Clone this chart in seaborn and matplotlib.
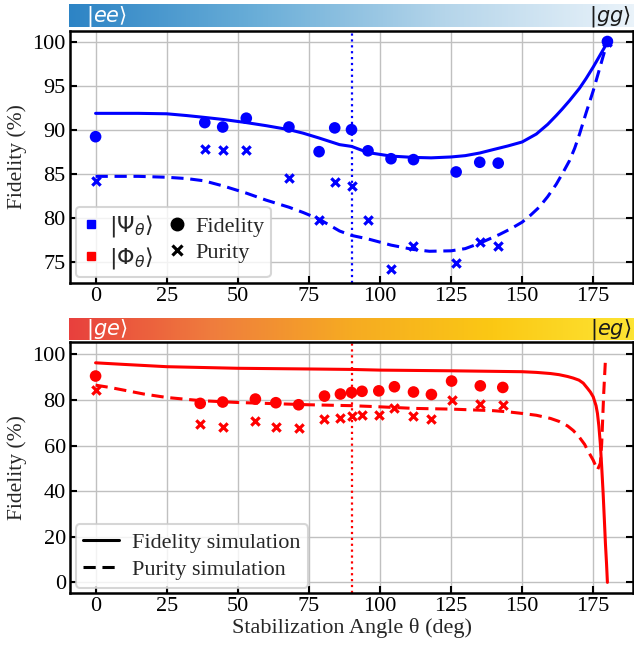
import numpy as np
import pandas as pd
import matplotlib
matplotlib.use("Agg")
import matplotlib.pyplot as plt
from matplotlib.colors import LinearSegmentedColormap
from matplotlib.lines import Line2D
import seaborn as sns

# ---------------- data ----------------
# Top panel |Psi_theta> (blue)
psi_angle = [0, 38.4, 44.7, 53.0, 68.0, 78.6, 84.1, 90.0, 95.8, 103.9, 111.8, 126.8, 135.1, 141.6, 180]
psi_fid = [89.2, 90.8, 90.3, 91.3, 90.3, 87.5, 90.2, 90.0, 87.6, 86.7, 86.6, 85.2, 86.3, 86.2, 100.0]
psi_pur = [84.2, 87.8, 87.7, 87.7, 84.5, 79.7, 84.1, 83.6, 79.7, 74.2, 76.8, 74.9, 77.3, 76.8, 100.0]

psi_sim_angle = [0, 15, 25, 32, 38, 45, 53, 60, 68, 73, 78.6, 85.8, 90, 95.8, 103.9, 111.8, 118, 125, 130,
                 135.1, 140, 145, 150, 155, 159, 162, 164, 166.7, 170.2, 172.5, 175, 177.5, 180]
psi_sim_fid = [91.85, 91.85, 91.8, 91.6, 91.4, 91.15, 90.8, 90.45, 90.0, 89.6, 89.05, 88.3, 88.1, 87.4, 87.0,
               86.85, 86.8, 86.9, 87.05, 87.35, 87.75, 88.15, 88.6, 89.5, 90.6, 91.6, 92.3, 93.3, 94.7, 95.8,
               97.1, 98.5, 99.9]
psi_sim_pur_angle = [0, 15, 25, 32, 38, 45, 53, 60, 68, 73, 78.6, 85.8, 90, 95.8, 103.9, 111.8, 117.4, 125,
                     130, 135, 142, 146, 150, 153, 156, 159, 162, 164.5, 166.7, 168.5, 170.2, 172.5, 175, 177.5, 180]
psi_sim_pur = [84.7, 84.7, 84.6, 84.45, 84.2, 83.6, 82.8, 82.0, 81.2, 80.6, 79.85, 78.5, 78.0, 77.6, 76.9,
               76.4, 76.2, 76.25, 76.5, 77.1, 78.1, 78.75, 79.5, 80.3, 81.2, 82.4, 83.8, 85.2, 86.5, 87.9, 89.5,
               91.9, 94.4, 97.2, 100.0]

# Bottom panel |Phi_theta> (red)
phi_angle = [0, 36.8, 44.7, 56.2, 63.4, 71.4, 80.5, 86.1, 90.0, 93.7, 99.6, 105.1, 111.8, 118.1, 125.2, 135.3, 143.2]
phi_fid = [90.5, 78.5, 79.1, 80.4, 78.8, 77.9, 81.7, 82.6, 83.3, 83.8, 84.0, 85.8, 83.5, 82.4, 88.3, 86.2, 85.5]
phi_pur = [84.3, 69.4, 68.0, 70.9, 68.1, 67.8, 71.5, 72.1, 72.9, 73.2, 73.4, 76.6, 72.9, 71.5, 80.0, 78.1, 77.8]

phi_sim_fid_angle = [0, 10, 25, 50, 75, 90, 100, 125, 150, 155, 160, 163, 166, 168, 170, 171.5, 173, 174,
                     175, 176, 176.5, 177, 177.5, 178, 178.5, 179, 179.3, 179.7, 180]
phi_sim_fid = [96.3, 95.6, 94.6, 93.9, 93.6, 93.4, 93.1, 92.8, 92.4, 92.1, 91.6, 91.1, 90.3, 89.6, 88.7,
               87.4, 85.1, 83.5, 81.4, 77.5, 74.1, 68.5, 61.0, 50.5, 39.0, 25.5, 17.1, 8.0, 0.0]
phi_sim_pur_angle = [0, 5, 10, 17, 25, 37, 50, 75, 90, 100, 112, 125, 140, 145, 150, 155, 160, 163, 166,
                     168, 170, 172, 173, 175, 176.5, 177.5, 178, 178.7, 179.3, 180]
phi_sim_pur = [86.5, 85.5, 84.3, 82.6, 81.1, 79.7, 78.9, 77.9, 77.5, 77.0, 76.3, 76.0, 75.3, 74.8, 74.1,
               73.3, 71.9, 70.6, 68.6, 66.6, 63.9, 60.5, 58.0, 53.6, 49.3, 52.2, 61.0, 82.9, 97.5, 98.9]

x_ticks = [0, 25, 50, 75, 100, 125, 150, 175]
top_yticks = [75, 80, 85, 90, 95, 100]
bot_yticks = [0, 20, 40, 60, 80, 100]
stab_angle = 90

BLUE = "#0000ff"
RED = "#ff0000"
DASH = (0, (4, 2.2))

# ---------------- style ----------------
sns.set_theme(style="whitegrid")
plt.rcParams["font.family"] = ["Liberation Serif", "DejaVu Serif"]
plt.rcParams["mathtext.fontset"] = "dejavusans"
plt.rcParams["grid.color"] = "#c0c0c0"
plt.rcParams["grid.linewidth"] = 1.0

fig = plt.figure(figsize=(6.34, 6.48), dpi=100)
W, H = 634, 648

def fa(x0, y0, x1, y1):
    return [x0 / W, 1 - y1 / H, (x1 - x0) / W, (y1 - y0) / H]

ax1 = fig.add_axes(fa(70, 30.5, 633, 283))
ax2 = fig.add_axes(fa(70, 342.3, 633, 593.3))
bar1 = fig.add_axes(fa(69, 4, 634, 26.7))
bar2 = fig.add_axes(fa(69, 317.7, 634, 340))

# gradient bars
grad = np.linspace(0, 1, 512).reshape(1, -1)
blue_cmap = LinearSegmentedColormap.from_list("b", ["#2d84c5", "#6aaed8", "#b5d5ea", "#eaf3fa"])
warm_cmap = LinearSegmentedColormap.from_list("w", ["#e8403d", "#ef7c3e", "#f6ab22", "#fbc814", "#fde433"])
for bax, cmap, ltxt, rtxt in [(bar1, blue_cmap, r"$|ee\rangle$", r"$|gg\rangle$"),
                              (bar2, warm_cmap, r"$|ge\rangle$", r"$|eg\rangle$")]:
    bax.imshow(grad, aspect="auto", cmap=cmap, extent=[0, 1, 0, 1])
    bax.set_axis_off()
    bax.text(0.03, 0.45, ltxt, color="white", fontsize=15, va="center", ha="left", transform=bax.transAxes)
    bax.text(0.995, 0.45, rtxt, color="#1a1a1a", fontsize=15, va="center", ha="right", transform=bax.transAxes)

# ---------------- top panel ----------------
df_psi = pd.DataFrame({"angle": psi_angle, "fid": psi_fid, "pur": psi_pur})
df_psi_fs = pd.DataFrame({"angle": psi_sim_angle, "fid": psi_sim_fid})
df_psi_ps = pd.DataFrame({"angle": psi_sim_pur_angle, "pur": psi_sim_pur})

sns.lineplot(data=df_psi_fs, x="angle", y="fid", ax=ax1, color=BLUE, lw=2.2)
sns.lineplot(data=df_psi_ps, x="angle", y="pur", ax=ax1, color=BLUE, lw=2.2, linestyle=DASH)
sns.scatterplot(data=df_psi, x="angle", y="fid", ax=ax1, color=BLUE, s=70, marker="o", edgecolor="none", zorder=5)
sns.scatterplot(data=df_psi, x="angle", y="pur", ax=ax1, color=BLUE, s=36, marker="x", linewidth=2.3, zorder=5)
ax1.axvline(stab_angle, color=BLUE, ls=":", lw=1.6)

# ---------------- bottom panel ----------------
df_phi = pd.DataFrame({"angle": phi_angle, "fid": phi_fid, "pur": phi_pur})
df_phi_fs = pd.DataFrame({"angle": phi_sim_fid_angle, "fid": phi_sim_fid})
df_phi_ps = pd.DataFrame({"angle": phi_sim_pur_angle, "pur": phi_sim_pur})

sns.lineplot(data=df_phi_fs, x="angle", y="fid", ax=ax2, color=RED, lw=2.2)
sns.lineplot(data=df_phi_ps, x="angle", y="pur", ax=ax2, color=RED, lw=2.2, linestyle=DASH)
sns.scatterplot(data=df_phi, x="angle", y="fid", ax=ax2, color=RED, s=70, marker="o", edgecolor="none", zorder=5)
sns.scatterplot(data=df_phi, x="angle", y="pur", ax=ax2, color=RED, s=36, marker="x", linewidth=2.3, zorder=5)
ax2.axvline(stab_angle, color=RED, ls=":", lw=1.6)

for ax, yt in [(ax1, top_yticks), (ax2, bot_yticks)]:
    ax.set_xlim(-9, 189)
    ax.set_xticks(x_ticks)
    ax.set_yticks(yt)
    ax.set_xlabel("")
    ax.set_ylabel("Fidelity (%)", fontsize=15.5, labelpad=4)
    ax.tick_params(axis="both", direction="in", length=5, width=1.5, labelsize=16,
                   left=True, bottom=True, right=True, top=False, colors="black", pad=3)
    for sp in ax.spines.values():
        sp.set_color("black")
        sp.set_linewidth(1.8)
    ax.set_facecolor("white")

ax1.set_ylim(72.6, 101.25)
ax2.set_ylim(-4.8, 105.3)
ax2.set_xlabel("Stabilization Angle θ (deg)", fontsize=16, labelpad=1)

# legends
h_top = [Line2D([], [], ls="", marker="s", color=BLUE, ms=6),
         Line2D([], [], ls="", marker="s", color=RED, ms=6),
         Line2D([], [], ls="", marker="o", color="black", ms=9),
         Line2D([], [], ls="", marker="x", color="black", ms=7, mew=2.3)]
l_top = [r"$|\mathit{\Psi}_{\theta}\rangle$", r"$|\mathit{\Phi}_{\theta}\rangle$", "Fidelity", "Purity"]
leg1 = ax1.legend(h_top, l_top, ncol=2, loc="lower left", fontsize=16, frameon=True,
                  handlelength=0.8, handletextpad=0.4, columnspacing=0.7,
                  borderpad=0.3, labelspacing=0.25, borderaxespad=0.25, fancybox=True)
leg1.get_frame().set_edgecolor("#cccccc")
leg1.get_frame().set_linewidth(1.5)

h_bot = [Line2D([], [], color="black", lw=2.2),
         Line2D([], [], color="black", lw=2.2, ls=DASH)]
leg2 = ax2.legend(h_bot, ["Fidelity simulation", "Purity simulation"], loc="lower left", fontsize=16,
                  frameon=True, handlelength=1.6, handletextpad=0.6, borderpad=0.35,
                  labelspacing=0.3, borderaxespad=0.25, fancybox=True)
leg2.get_frame().set_edgecolor("#cccccc")
leg2.get_frame().set_linewidth(1.5)

fig.savefig("out.png", dpi=100)
